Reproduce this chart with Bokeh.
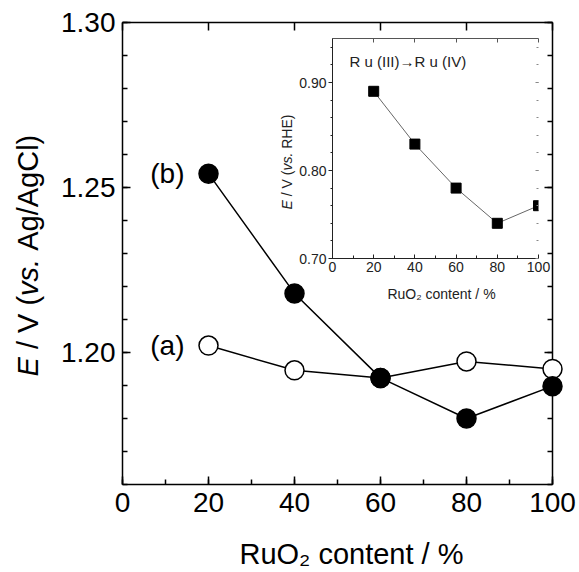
import math
from bokeh.plotting import figure
from bokeh.models import (Label, LinearAxis, SingleIntervalTicker, PrintfTickFormatter, Range1d,
                          CustomLabelingPolicy)
from bokeh.embed import file_html
from bokeh.resources import INLINE

# ---------------- data ----------------
content = [20, 40, 60, 80, 100]
series_a = [1.2021, 1.1946, 1.1923, 1.1973, 1.1950]
series_b = [1.2542, 1.2179, 1.1923, 1.1800, 1.1898]

inset_content = [20, 40, 60, 80, 100]
inset_e = [0.89, 0.83, 0.78, 0.74, 0.76]

series_labels = ["(a)", "(b)"]
x_label = "RuO\u2082 content / %"
# (text, style, gap-after in spaces)
main_y_parts = [("E", "italic", 1), ("/ V (", "normal", 0), ("vs.", "italic", 1), ("Ag/AgCl)", "normal", 0)]
inset_y_parts = [("E", "italic", 1), ("/ V (", "normal", 0), ("vs.", "italic", 1), ("RHE)", "normal", 0)]
inset_note = "R u (III)\u2192R u (IV)"

FONT = "Liberation Sans"
WIDTH, HEIGHT = 579, 572

# frame geometry (pixels) and ranges
MAIN = dict(left=122, right=552, top=22, bottom=484, x=(0, 100), y=(1.16, 1.30))
INSET = dict(left=332, right=538, top=38, bottom=258, x=(0, 100), y=(0.70, 0.95))

# Arial/Liberation advance widths (em) for laying out the mixed-style labels
W = {"E": .667, " ": .278, "/": .278, "V": .667, "(": .333, ")": .333, "v": .5, "s": .5, ".": .278,
     "A": .667, "g": .556, "C": .722, "l": .222, "R": .722, "H": .722}

def text_w(s, size):
    return sum(W.get(c, .556) for c in s) * size

def hide_labels(ax):
    ax.major_label_text_font_size = "0px"
    ax.major_label_standoff = 0
    ax.major_label_policy = CustomLabelingPolicy(
        code="for (const i of indices) { indices.unset(i) }\nreturn indices")

def base_fig(geom, transparent=False):
    f = figure(width=WIDTH, height=HEIGHT, x_range=Range1d(*geom["x"]), y_range=Range1d(*geom["y"]),
               output_backend="svg", toolbar_location=None,
               min_border_left=geom["left"], min_border_right=WIDTH - geom["right"],
               min_border_top=geom["top"], min_border_bottom=HEIGHT - geom["bottom"])
    f.grid.visible = False
    f.outline_line_color = None
    if transparent:
        f.border_fill_color = None
    return f

def style_axis(ax, ticker, label_size, tin, tout, min_in, min_out, color="black", width=1.5,
               text_color="black"):
    ax.ticker = ticker
    ax.major_tick_in = tin
    ax.major_tick_out = tout
    ax.minor_tick_in = min_in
    ax.minor_tick_out = min_out
    ax.axis_line_width = width
    ax.major_tick_line_width = width
    ax.minor_tick_line_width = width
    ax.axis_line_color = color
    ax.major_tick_line_color = color
    ax.minor_tick_line_color = color
    ax.major_label_text_font = FONT
    ax.major_label_text_font_size = label_size
    ax.major_label_text_color = text_color

# ---------------- main figure (axes + lines) ----------------
p = base_fig(MAIN)
p.background_fill_color = "white"
p.border_fill_color = "white"

xa = p.xaxis[0]
style_axis(xa, SingleIntervalTicker(interval=20, num_minor_ticks=2), "28px", 8, 0, 5, 0)
xa.major_label_standoff = 8

ya = p.yaxis[0]
style_axis(ya, SingleIntervalTicker(interval=0.05, num_minor_ticks=5), "28px", 8, 0, 5, 0)
ya.formatter = PrintfTickFormatter(format="%.2f")
ya.major_label_standoff = 7

ra = LinearAxis()
style_axis(ra, SingleIntervalTicker(interval=0.05, num_minor_ticks=5), "0px", 8, 0, 5, 0)
hide_labels(ra)
p.add_layout(ra, "right")

ta = LinearAxis()
style_axis(ta, SingleIntervalTicker(interval=20, num_minor_ticks=0), "0px", 8, 0, 0, 0)
hide_labels(ta)
p.add_layout(ta, "above")

p.line(content, series_a, line_color="black", line_width=1.5)
p.line(content, series_b, line_color="black", line_width=1.5)

# ---------------- overlay (markers + free texts), full-canvas frame ----------------
sx = (MAIN["x"][1] - MAIN["x"][0]) / (MAIN["right"] - MAIN["left"])
sy = (MAIN["y"][1] - MAIN["y"][0]) / (MAIN["bottom"] - MAIN["top"])

def ox(px):
    return MAIN["x"][0] + (px - MAIN["left"]) * sx

def oy(py):
    return MAIN["y"][1] - (py - MAIN["top"]) * sy

ov = figure(width=WIDTH, height=HEIGHT, x_range=Range1d(ox(0), ox(WIDTH)),
            y_range=Range1d(oy(HEIGHT), oy(0)), output_backend="svg", toolbar_location=None,
            x_axis_type=None, y_axis_type=None, min_border=0)
ov.grid.visible = False
ov.outline_line_color = None
ov.border_fill_color = None
ov.background_fill_color = None

ov.scatter(content, series_a, size=19, marker="circle", fill_color="white", line_color="black", line_width=1.5)
ov.scatter(content, series_b, size=19, marker="circle", fill_color="black", line_color="black", line_width=1.5)

for txt, yv in zip(series_labels, (series_a[0], series_b[0])):
    ov.add_layout(Label(x=ox(184), y=yv, text=txt, text_align="right", text_baseline="middle",
                        text_font=FONT, text_font_size="28px", text_color="black"))

# main x label
ov.add_layout(Label(x=ox(351), y=oy(553), text=x_label, text_align="center", text_baseline="middle",
                    text_font=FONT, text_font_size="29px", text_color="black"))

def rotated_label(fig, parts, xpix, start, size, color):
    for txt, style, gap in parts:
        fig.add_layout(Label(x=ox(xpix), y=oy(start), text=txt, angle=math.pi / 2,
                             text_align="left", text_baseline="middle", text_font=FONT,
                             text_font_size=f"{size}px", text_font_style=style, text_color=color))
        start -= text_w(txt + " " * gap, size)

# main rotated y label (mixed italic)
rotated_label(ov, main_y_parts, 27, 376, 29, "black")

INK = "#222222"

# inset labels outside the inset frame
ov.add_layout(Label(x=ox(441), y=oy(293), text=x_label, text_align="center", text_baseline="middle",
                    text_font=FONT, text_font_size="14px", text_color=INK))
rotated_label(ov, inset_y_parts, 286, 209, 14, INK)

# ---------------- inset ----------------
q = base_fig(INSET, transparent=True)
q.background_fill_color = "white"

qx = q.xaxis[0]
style_axis(qx, SingleIntervalTicker(interval=20, num_minor_ticks=2), "14px", 4, 0, 3, 0,
           color=INK, width=1, text_color=INK)
qx.major_label_standoff = 3

qy = q.yaxis[0]
style_axis(qy, SingleIntervalTicker(interval=0.1, num_minor_ticks=5), "14px", 0, 4, 0, 2,
           color=INK, width=1, text_color=INK)
qy.formatter = PrintfTickFormatter(format="%.2f")
qy.major_label_standoff = 2

qr = LinearAxis()
style_axis(qr, SingleIntervalTicker(interval=0.1, num_minor_ticks=5), "0px", 3, 0, 2, 0,
           color="#888888", width=1)
qr.axis_line_color = None
hide_labels(qr)
q.add_layout(qr, "right")

qt = LinearAxis()
style_axis(qt, SingleIntervalTicker(interval=20, num_minor_ticks=0), "0px", 4, 0, 0, 0,
           color="#555555", width=1)
hide_labels(qt)
q.add_layout(qt, "above")

q.line(inset_content, inset_e, line_color="#666666", line_width=1)
q.scatter(inset_content, inset_e, marker="square", size=10, fill_color="black", line_color="black")

isx = (INSET["x"][1] - INSET["x"][0]) / (INSET["right"] - INSET["left"])
isy = (INSET["y"][1] - INSET["y"][0]) / (INSET["bottom"] - INSET["top"])
q.add_layout(Label(x=INSET["x"][0] + (349 - INSET["left"]) * isx,
                   y=INSET["y"][0] + (INSET["bottom"] - 61) * isy,
                   text=inset_note, text_align="left", text_baseline="middle",
                   text_font=FONT, text_font_size="15px", text_color=INK))

for f in (p, ov, q):
    f.styles = {"position": "absolute", "left": "0px", "top": "0px"}

open("out.html", "w").write(file_html([p, ov, q], INLINE))
